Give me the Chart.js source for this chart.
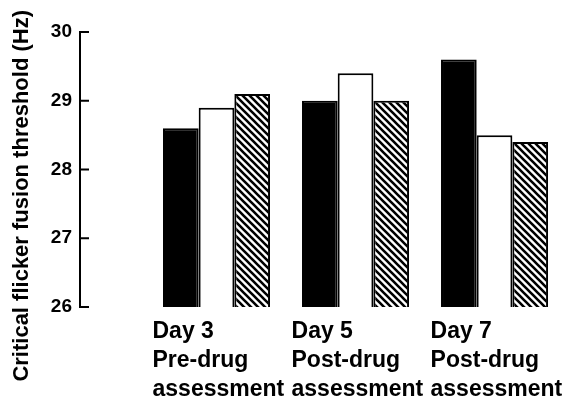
<!DOCTYPE html>
<html lang="en">
<head>
    <meta charset="UTF-8">
    <title>Critical flicker fusion threshold</title>
    <script src="https://cdn.jsdelivr.net/npm/chart.js"></script>
    <style>
        body {
            margin: 0;
            background: #fff;
        }
        .chart-box {
            width: 586px;
            height: 409px;
        }
    </style>
</head>
<body>
    <div class="chart-box">
        <canvas id="cffChart"></canvas>
    </div>

    <script>
        // assessment days (one label line per array entry)
        const categories = [
            ['Day 3', 'Pre-drug', 'assessment'],
            ['Day 5', 'Post-drug', 'assessment'],
            ['Day 7', 'Post-drug', 'assessment']
        ];
        // three treatment groups: solid, open, hatched bars
        const solidValues = [28.6, 29.0, 29.6];
        const openValues = [28.9, 29.4, 28.5];
        const hatchedValues = [29.1, 29.0, 28.4];
        const yTicks = [26, 27, 28, 29, 30];
        const yTitle = 'Critical flicker fusion threshold (Hz)';

        const FONT = "'Liberation Sans', Arial, Helvetica, sans-serif";

        function makeHatch() {
            const size = 7;
            const c = document.createElement('canvas');
            c.width = size;
            c.height = size;
            const g = c.getContext('2d');
            g.fillStyle = '#fff';
            g.fillRect(0, 0, size, size);
            g.strokeStyle = '#000';
            g.lineWidth = 2.6;
            g.beginPath();
            for (const k of [-size, 0, size]) {
                g.moveTo(k - 1, -1);
                g.lineTo(k + size + 1, size + 1);
            }
            g.stroke();
            return g.createPattern(c, 'repeat');
        }

        // y axis line with tick marks pointing into the plot
        const axisMarks = {
            id: 'axisMarks',
            afterDraw(chart) {
                const y = chart.scales.y;
                const x0 = chart.chartArea.left;
                const ctx = chart.ctx;
                ctx.save();
                ctx.strokeStyle = '#000';
                ctx.lineWidth = 2;
                ctx.lineCap = 'square';
                ctx.beginPath();
                ctx.moveTo(x0, y.getPixelForValue(yTicks[0]));
                ctx.lineTo(x0, y.getPixelForValue(yTicks[yTicks.length - 1]));
                yTicks.forEach(v => {
                    const py = y.getPixelForValue(v);
                    ctx.moveTo(x0, py);
                    ctx.lineTo(x0 + 8, py);
                });
                ctx.stroke();
                ctx.restore();
            }
        };

        const barStyle = {
            borderColor: '#000',
            borderWidth: 2,
            borderSkipped: false,
            categoryPercentage: 0.77,
            barPercentage: 1.0
        };

        new Chart(document.getElementById('cffChart'), {
            type: 'bar',
            data: {
                labels: categories.map((c, i) => i),
                datasets: [
                    { label: 'solid', data: solidValues, backgroundColor: '#000', ...barStyle },
                    { label: 'open', data: openValues, backgroundColor: '#fff', ...barStyle },
                    { label: 'hatched', data: hatchedValues, backgroundColor: makeHatch(), ...barStyle }
                ]
            },
            options: {
                responsive: true,
                maintainAspectRatio: false,
                animation: false,
                layout: { padding: { top: 10, right: 10, left: 0, bottom: 0 } },
                plugins: {
                    legend: { display: false },
                    tooltip: { enabled: false }
                },
                scales: {
                    x: {
                        type: 'linear',
                        min: -0.982,
                        max: 2.586,
                        offset: false,
                        grid: { display: false, drawTicks: false, offset: false },
                        border: { display: false },
                        afterBuildTicks: s => { s.ticks = categories.map((c, i) => ({ value: i })); },
                        afterFit: s => {
                            s.height = 102;
                            s.paddingLeft = 0;
                            s.paddingRight = 0;
                        },
                        ticks: {
                            autoSkip: false,
                            maxRotation: 0,
                            align: 'start',
                            labelOffset: -64,
                            padding: 10,
                            color: '#000',
                            font: { family: FONT, size: 23, weight: 'bold', lineHeight: 1.26 },
                            callback: v => categories[v]
                        }
                    },
                    y: {
                        min: 26,
                        max: 30.32,
                        grid: { display: false, drawTicks: false },
                        border: { display: false },
                        afterBuildTicks: s => { s.ticks = yTicks.map(v => ({ value: v })); },
                        afterFit: s => {
                            s.width = 80;
                            s.paddingTop = 0;
                            s.paddingBottom = 0;
                        },
                        ticks: {
                            padding: 8,
                            color: '#000',
                            font: { family: FONT, size: 19, weight: 'bold' }
                        },
                        title: {
                            display: true,
                            text: yTitle,
                            align: 'end',
                            color: '#000',
                            padding: { top: 9, bottom: 0 },
                            font: { family: FONT, size: 22, weight: 'bold' }
                        }
                    }
                }
            },
            plugins: [axisMarks]
        });
    </script>
</body>
</html>
